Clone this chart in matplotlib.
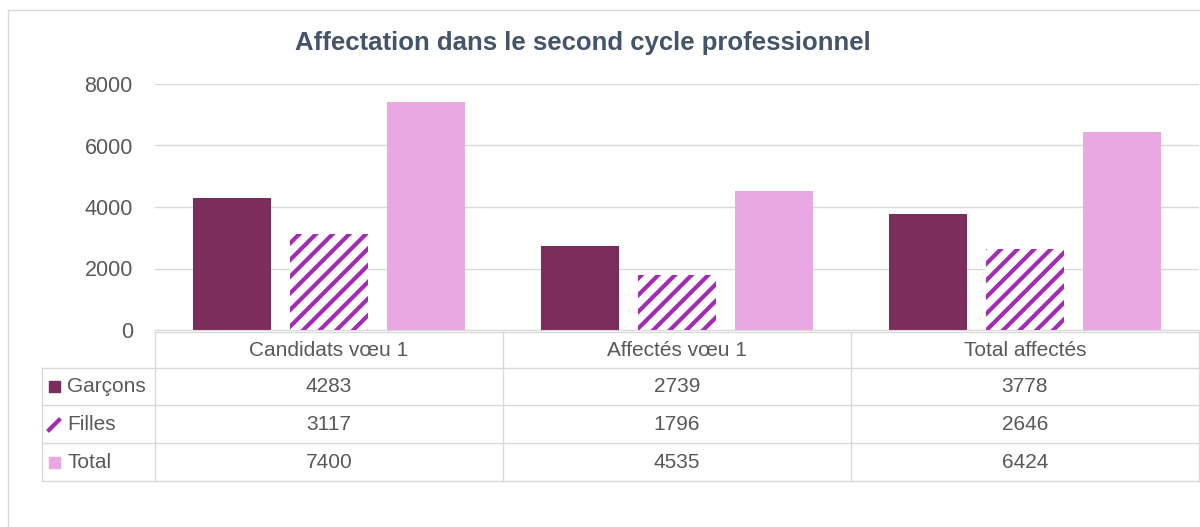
import matplotlib
matplotlib.use("Agg")
import matplotlib.pyplot as plt
from matplotlib.patches import Rectangle
from matplotlib.lines import Line2D
import numpy as np

# data
categories = ["Candidats vœu 1", "Affectés vœu 1", "Total affectés"]
series = ["Garçons", "Filles", "Total"]
garcons = [4283, 2739, 3778]
filles = [3117, 1796, 2646]
total = [7400, 4535, 6424]
yticks = [0, 2000, 4000, 6000, 8000]

W, H = 1200, 527
plt.rcParams["font.family"] = ["Liberation Sans", "DejaVu Sans"]
plt.rcParams["hatch.linewidth"] = 3.0
txt = "#595959"
grid = "#D9D9D9"
c_garcons = "#7B2D5C"
c_filles = "#A32CB4"
c_total = "#E9A8E1"
fs = 15


def fx(px):
    return px / W


def fy(py):
    return 1 - py / H


fig = plt.figure(figsize=(12, 5.27), dpi=100)

# outer chart border
fig.patches.append(Rectangle((fx(8), fy(540)), fx(1220 - 8), fy(10) - fy(540),
                             transform=fig.transFigure, fill=False,
                             edgecolor="#D9D9D9", linewidth=1))

x_left, x_right = 155, 1199
y_top, y_bot = 84, 330
ax = fig.add_axes([fx(x_left), fy(y_bot), fx(x_right - x_left), fy(y_top) - fy(y_bot)])

x = np.arange(len(categories))
bw = 0.222
step = 0.279
ax.bar(x - step, garcons, bw, color=c_garcons, linewidth=0)
ax.bar(x, filles, bw, color="white", edgecolor=c_filles, hatch="//", linewidth=0)
ax.bar(x + step, total, bw, color=c_total, linewidth=0)

ax.set_xlim(-0.5, len(categories) - 0.5)
ax.set_ylim(0, 8000)
ax.set_yticks(yticks)
ax.set_yticklabels([str(v) for v in yticks], fontsize=fs + 0.5, color=txt)
ax.tick_params(axis="y", length=0, pad=16)
ax.set_xticks([])
ax.grid(axis="y", color=grid, linewidth=1)
ax.set_axisbelow(True)
for s in ["top", "right", "left"]:
    ax.spines[s].set_visible(False)
ax.spines["bottom"].set_color(grid)

fig.text(fx(583), fy(43), "Affectation dans le second cycle professionnel",
         ha="center", va="center", fontsize=18.5, fontweight="bold", color="#44546A")

# data table below the axis
col_edges = [x_left, 503, 851, x_right]
row_edges = [332, 368, 405, 443, 481]
tab_left = 42
lw = 1


def hline(y, x0, x1):
    fig.add_artist(Line2D([fx(x0), fx(x1)], [fy(y), fy(y)], color=grid, lw=lw))


def vline(xp, y0, y1):
    fig.add_artist(Line2D([fx(xp), fx(xp)], [fy(y0), fy(y1)], color=grid, lw=lw))


for i, y in enumerate(row_edges):
    hline(y, x_left if i == 0 else tab_left, x_right)
vline(tab_left, row_edges[1], row_edges[-1])
for xe in col_edges:
    vline(xe, row_edges[0], row_edges[-1])

for j, cat in enumerate(categories):
    cx = (col_edges[j] + col_edges[j + 1]) / 2
    cy = (row_edges[0] + row_edges[1]) / 2
    fig.text(fx(cx), fy(cy), cat, ha="center", va="center", fontsize=fs, color=txt)

values = [garcons, filles, total]
for i, name in enumerate(series):
    cy = (row_edges[i + 1] + row_edges[i + 2]) / 2
    fig.text(fx(67), fy(cy), name, ha="left", va="center", fontsize=fs, color=txt)
    for j in range(len(categories)):
        cx = (col_edges[j] + col_edges[j + 1]) / 2
        fig.text(fx(cx), fy(cy), str(values[i][j]), ha="center", va="center",
                 fontsize=fs, color=txt)

# legend keys
k = 11
cy = (row_edges[1] + row_edges[2]) / 2
fig.patches.append(Rectangle((fx(49), fy(cy + k / 2)), fx(k), fy(0) - fy(k),
                             transform=fig.transFigure, color=c_garcons))
cy = (row_edges[2] + row_edges[3]) / 2
fig.add_artist(Line2D([fx(49), fx(59)], [fy(cy + 6), fy(cy - 4)], color=c_filles, lw=3))
cy = (row_edges[3] + row_edges[4]) / 2
fig.patches.append(Rectangle((fx(49), fy(cy + k / 2)), fx(k), fy(0) - fy(k),
                             transform=fig.transFigure, color=c_total))

fig.savefig("out.png", dpi=100, facecolor="white")
